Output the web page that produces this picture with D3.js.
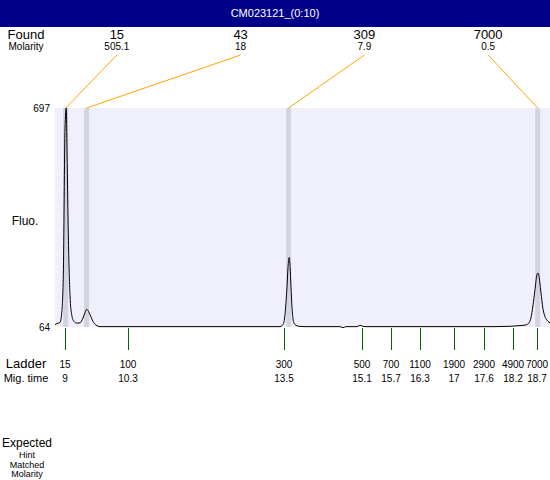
<!DOCTYPE html>
<html>
<head>
<meta charset="utf-8">
<script src="https://cdn.jsdelivr.net/npm/d3@7"></script>
<style>
  body { margin: 0; background: #fff; }
  svg { display: block; font-family: "Liberation Sans", Arial, sans-serif; }
</style>
</head>
<body>
<script>
var chartTitle = "CM023121_(0:10)";

// found peaks
var foundSizes = ["15", "43", "309", "7000"];
var foundMolarity = ["505.1", "18", "7.9", "0.5"];
var foundTimes = [9.01, 9.44, 13.59, 18.71];

// ladder
var ladderSizes = ["15", "100", "300", "500", "700", "1100", "1900", "2900", "4900", "7000"];
var ladderTimes = [9, 10.3, 13.5, 15.1, 15.7, 16.3, 17, 17.6, 18.2, 18.7];

var fluoTicks = [64, 697];

// electropherogram trace (mig. time, fluorescence)
var traceTime = [8.79, 8.83, 8.893, 8.928, 8.961, 8.996, 9.022, 9.037, 9.064, 9.098, 9.134, 9.18, 9.242, 9.304, 9.365, 9.407, 9.442, 9.478, 9.509, 9.571, 9.633, 9.715, 9.92,
  11.77, 13.414, 13.455, 13.486, 13.517, 13.537, 13.558, 13.578, 13.605, 13.619, 13.64, 13.661, 13.681, 13.702, 13.743, 13.804, 13.928,
  14.647, 14.709, 14.77, 14.996, 15.058, 15.119, 15.181, 16.291, 17.811, 18.14, 18.345, 18.469,
  18.53, 18.571, 18.612, 18.653, 18.694, 18.715, 18.735, 18.776, 18.817, 18.858, 18.899, 18.94, 18.963];
var traceFluo = [71, 74, 77, 104, 214, 639, 697, 570, 330, 156, 99, 80, 75, 76, 90, 106, 115, 109, 100, 80, 70, 65, 65,
  65, 65, 68, 74, 100, 135, 180, 235, 265, 245, 180, 120, 88, 76, 69, 66, 65,
  65, 62, 65, 65, 69, 66, 65, 65, 65, 66, 68, 70,
  76, 90, 125, 170, 215, 220, 212, 165, 118, 95, 84, 78, 76];

var expectedRows = ["Hint", "Matched", "Molarity"];

var width = 550, height = 480;
var plotLeft = 55, plotRight = 550, plotTop = 108, plotBottom = 327;

var svg = d3.select("body").append("svg")
    .attr("width", width)
    .attr("height", height);

// title bar
svg.append("rect")
    .attr("x", 0).attr("y", 0)
    .attr("width", width).attr("height", 27)
    .attr("fill", "#000088");

svg.append("text")
    .attr("x", 275).attr("y", 17)
    .attr("text-anchor", "middle")
    .attr("fill", "#fff")
    .attr("font-size", 11)
    .text(chartTitle);

var x = d3.scaleLinear()
    .domain([8.79, 18.963])
    .range([plotLeft, plotRight]);

var y = d3.scaleLinear()
    .domain([64, 697])
    .range([plotBottom, plotTop]);

var slot = d3.scaleBand()
    .domain(d3.range(foundSizes.length))
    .range([plotLeft, plotRight]);

// plot background
svg.append("rect")
    .attr("x", plotLeft).attr("y", plotTop)
    .attr("width", plotRight - plotLeft).attr("height", plotBottom - plotTop)
    .attr("fill", "#f0f0fc");

// peak bands
svg.append("g").selectAll("rect")
    .data(foundTimes)
    .enter().append("rect")
    .attr("x", function (d) { return x(d) - 2.5; })
    .attr("y", plotTop)
    .attr("width", 5)
    .attr("height", plotBottom - plotTop)
    .attr("fill", "#d4d4e0");

// trace
var trace = traceTime.map(function (t, i) { return [t, traceFluo[i]]; });

svg.append("defs").append("clipPath")
    .attr("id", "clip")
    .append("rect")
    .attr("x", plotLeft).attr("y", plotTop - 1)
    .attr("width", plotRight - plotLeft).attr("height", plotBottom - plotTop + 4);

svg.append("path")
    .datum(trace)
    .attr("clip-path", "url(#clip)")
    .attr("fill", "none")
    .attr("stroke", "#000")
    .attr("stroke-width", 1)
    .attr("d", d3.line()
        .x(function (d) { return x(d[0]); })
        .y(function (d) { return y(d[1]); })
        .curve(d3.curveMonotoneX));

// y axis labels
var yAxis = d3.axisLeft(y)
    .tickValues(fluoTicks)
    .tickSize(0)
    .tickPadding(5);

var yg = svg.append("g")
    .attr("transform", "translate(" + plotLeft + ",0)")
    .call(yAxis);
yg.select(".domain").remove();
yg.selectAll("text")
    .attr("font-family", "Liberation Sans, Arial, sans-serif")
    .attr("font-size", 10)
    .attr("fill", "#000");

svg.append("text")
    .attr("x", 25).attr("y", 225)
    .attr("text-anchor", "middle")
    .attr("font-size", 12)
    .text("Fluo.");

// found header
svg.append("text")
    .attr("x", 26).attr("y", 39)
    .attr("text-anchor", "middle")
    .attr("font-size", 13)
    .text("Found");

svg.append("text")
    .attr("x", 26).attr("y", 50)
    .attr("text-anchor", "middle")
    .attr("font-size", 10)
    .text("Molarity");

var found = svg.append("g").selectAll("g")
    .data(foundSizes)
    .enter().append("g");

found.append("text")
    .attr("x", function (d, i) { return slot(i) + slot.bandwidth() / 2; })
    .attr("y", 39)
    .attr("text-anchor", "middle")
    .attr("font-size", 13)
    .text(function (d) { return d; });

found.append("text")
    .attr("x", function (d, i) { return slot(i) + slot.bandwidth() / 2; })
    .attr("y", 50)
    .attr("text-anchor", "middle")
    .attr("font-size", 10)
    .text(function (d, i) { return foundMolarity[i]; });

found.append("line")
    .attr("x1", function (d, i) { return slot(i) + slot.bandwidth() / 2; })
    .attr("y1", 55)
    .attr("x2", function (d, i) { return x(foundTimes[i]); })
    .attr("y2", plotTop)
    .attr("stroke", "#ffa500")
    .attr("stroke-width", 1);

// ladder ticks
var ladder = svg.append("g").selectAll("g")
    .data(ladderSizes)
    .enter().append("g")
    .attr("transform", function (d, i) { return "translate(" + Math.round(x(ladderTimes[i])) + ",0)"; });

ladder.append("line")
    .attr("x1", 0.5).attr("x2", 0.5)
    .attr("y1", 328).attr("y2", 350)
    .attr("stroke", "#006400")
    .attr("stroke-width", 1);

ladder.append("text")
    .attr("y", 368)
    .attr("text-anchor", "middle")
    .attr("font-size", 10)
    .text(function (d) { return d; });

ladder.append("text")
    .attr("y", 382)
    .attr("text-anchor", "middle")
    .attr("font-size", 10)
    .text(function (d, i) { return ladderTimes[i]; });

svg.append("text")
    .attr("x", 26).attr("y", 368)
    .attr("text-anchor", "middle")
    .attr("font-size", 13)
    .text("Ladder");

svg.append("text")
    .attr("x", 26).attr("y", 382)
    .attr("text-anchor", "middle")
    .attr("font-size", 11)
    .text("Mig. time");

// expected block
svg.append("text")
    .attr("x", 27).attr("y", 447)
    .attr("text-anchor", "middle")
    .attr("font-size", 12)
    .text("Expected");

svg.append("g").selectAll("text")
    .data(expectedRows)
    .enter().append("text")
    .attr("x", 27)
    .attr("y", function (d, i) { return 458 + i * 9.5; })
    .attr("text-anchor", "middle")
    .attr("font-size", 9)
    .text(function (d) { return d; });
</script>
</body>
</html>
